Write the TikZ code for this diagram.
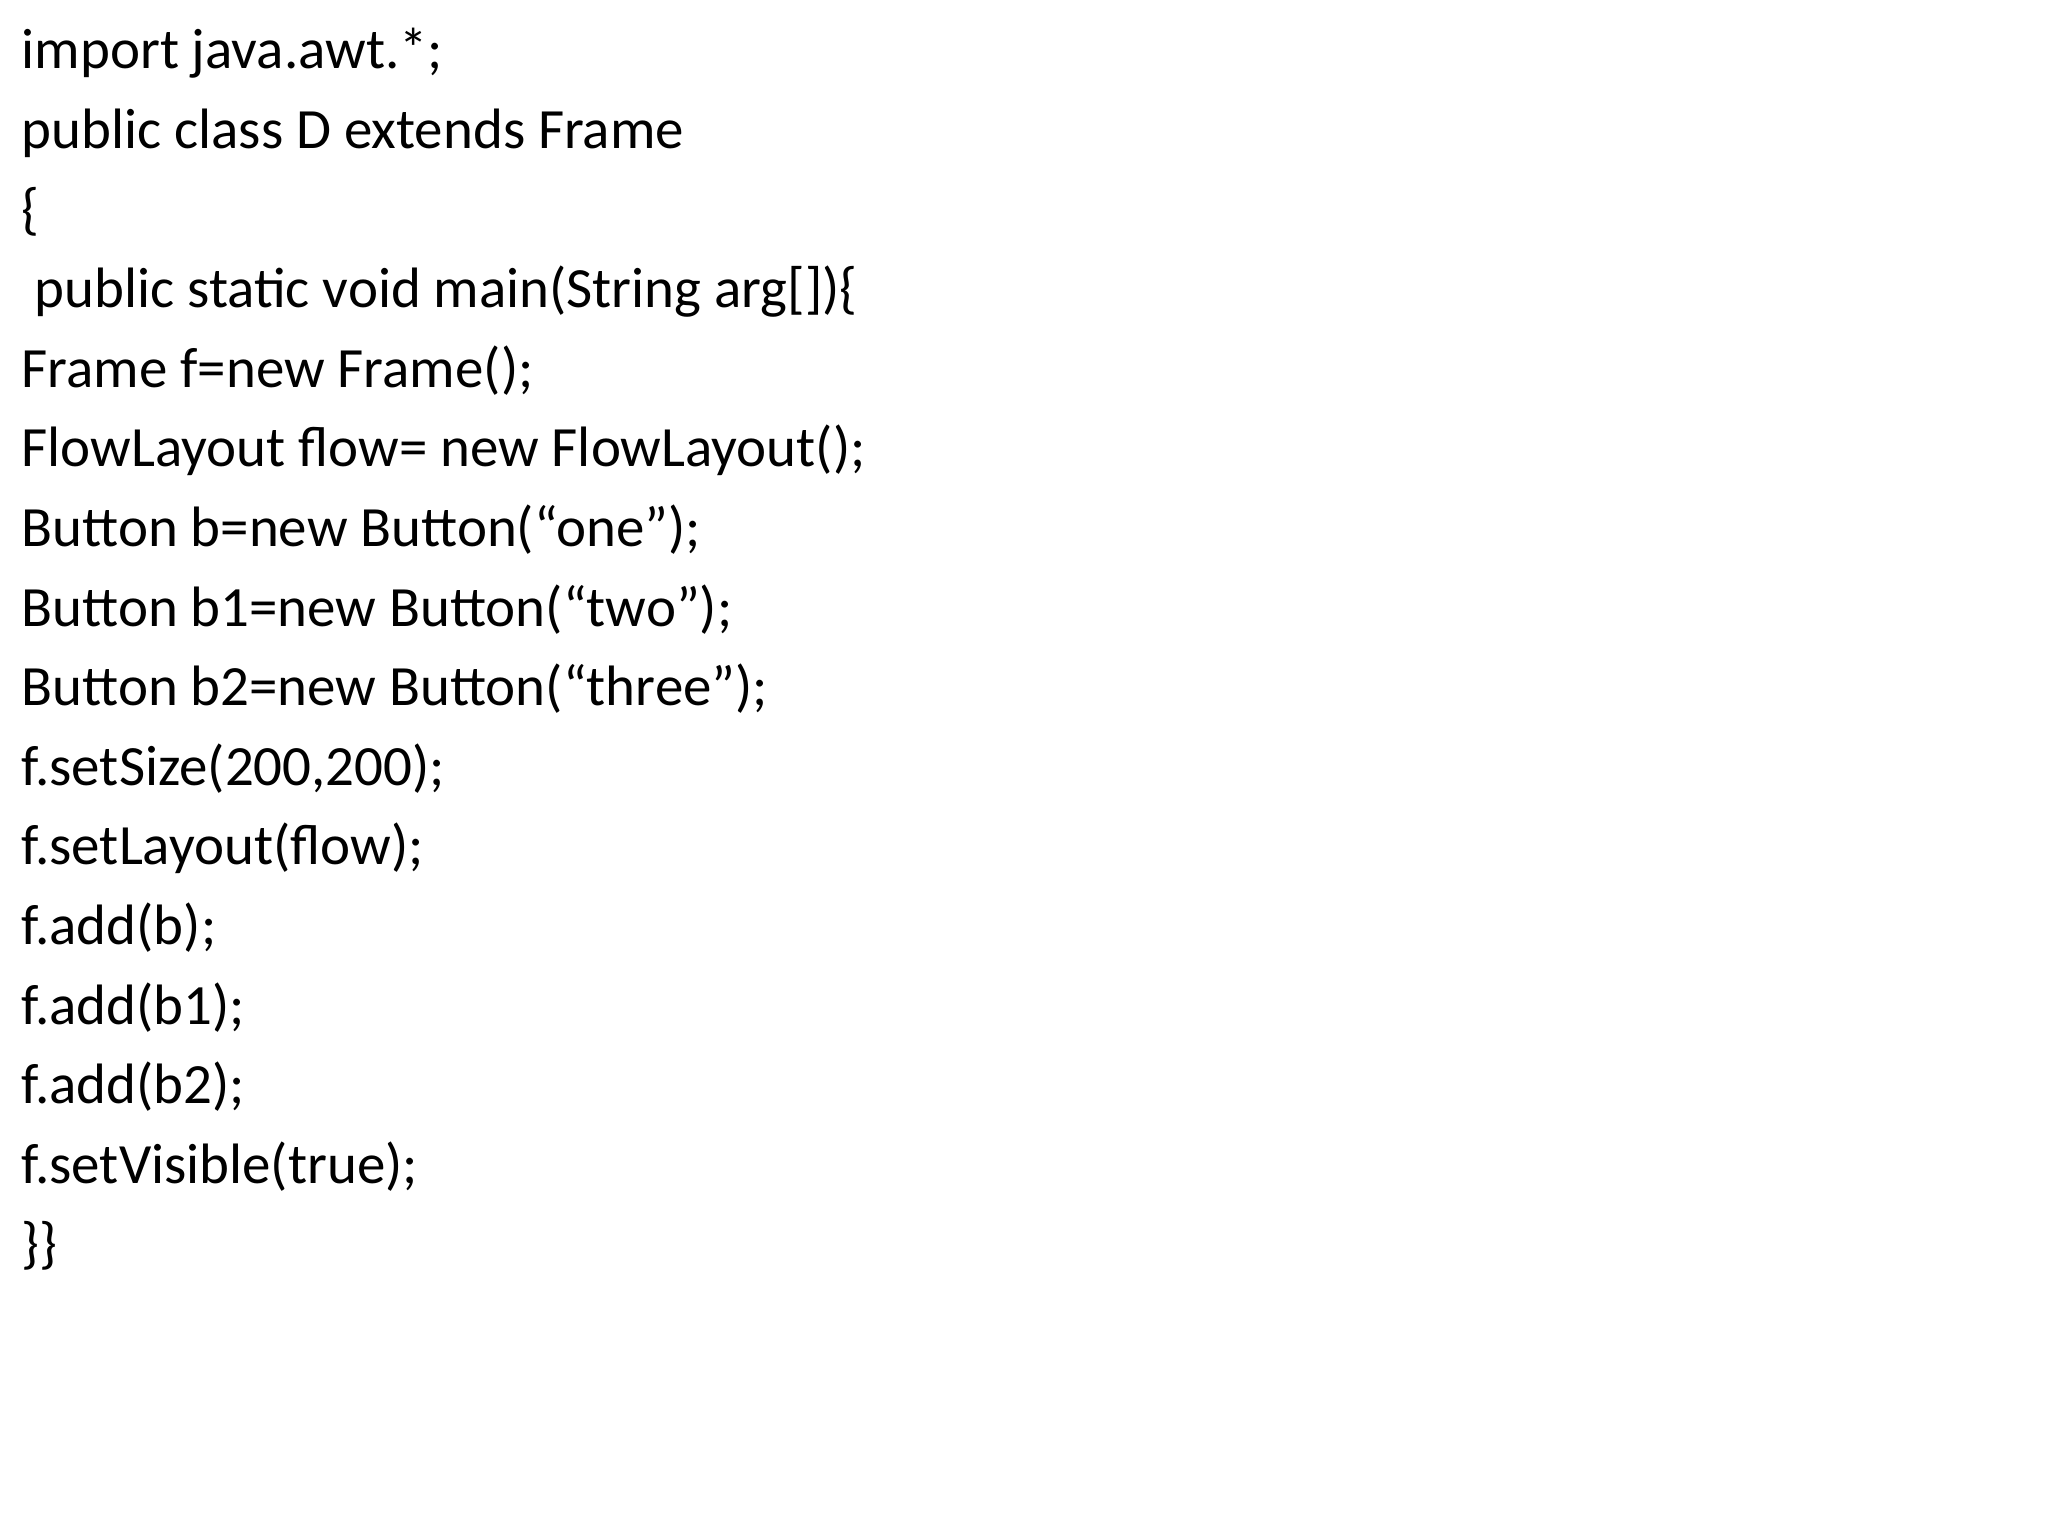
\documentclass[tikz,border=0pt]{standalone}
\usepackage{fontspec}
\setmainfont{Carlito}
\begin{document}
\begin{tikzpicture}[x=1cm,y=1cm,codeline/.style={anchor=base west,inner sep=0pt,font=\fontsize{16.2pt}{19pt}\selectfont}]
\useasboundingbox (0,0) rectangle (20.48,15.36);
\def\ys{0.796}
\foreach \t [count=\i from 0] in {
 {import java.awt.*;},
 {public class D extends Frame},
 {\{},
 {\hspace{0.13cm}public static void main(String arg[])\{},
 {Frame f=new Frame();},
 {FlowLayout flow= new FlowLayout();},
 {Button b=new Button(“one”);},
 {Button b1=new Button(“two”);},
 {Button b2=new Button(“three\symbol{34});},
 {f.setSize(200,200);},
 {f.setLayout(flow);},
 {f.add(b);},
 {f.add(b1);},
 {f.add(b2);},
 {f.setVisible(true);},
 {\}\}}
}{
 \node[codeline] (l\i) at (0.21,{15.36-0.69-\ys*\i}) {\t};
}
\end{tikzpicture}
\end{document}
